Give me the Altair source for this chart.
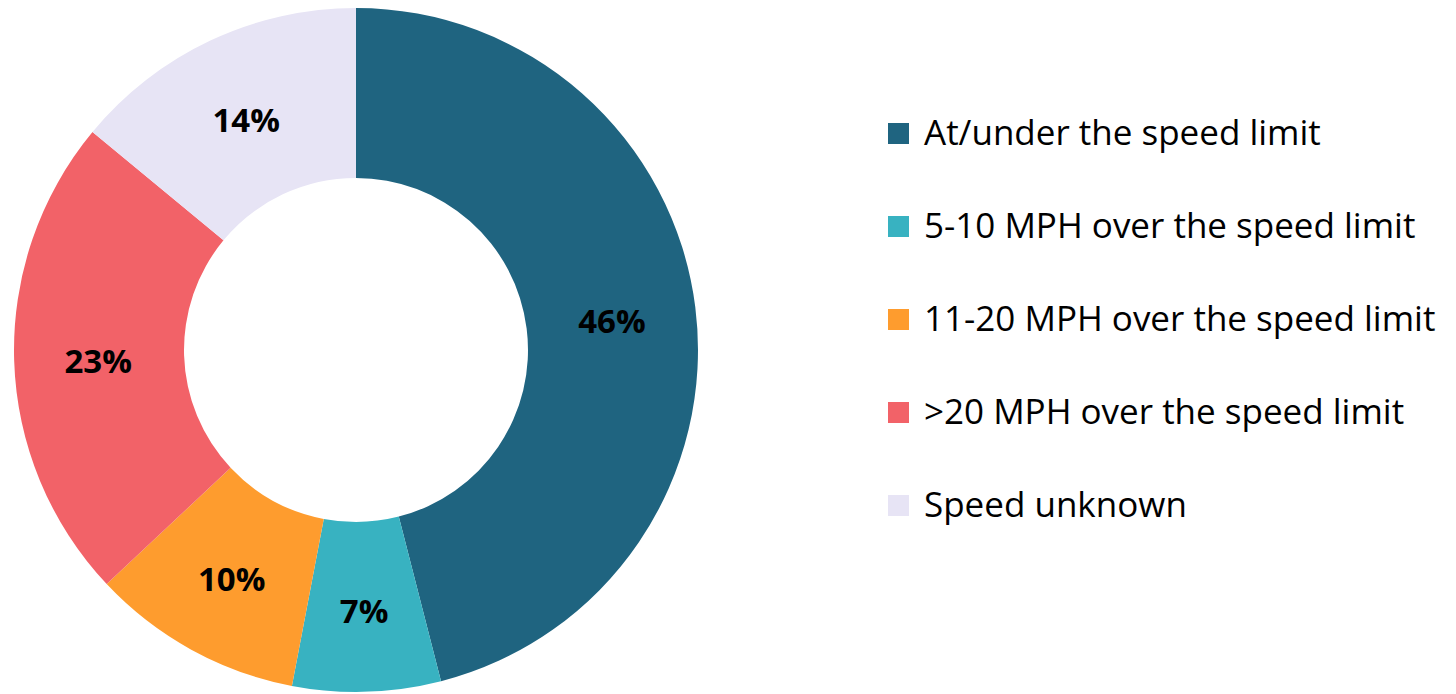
import altair as alt
import pandas as pd

categories = [
    "At/under the speed limit",
    "5-10 MPH over the speed limit",
    "11-20 MPH over the speed limit",
    ">20 MPH over the speed limit",
    "Speed unknown",
]
values = [46, 7, 10, 23, 14]
labels = ["46%", "7%", "10%", "23%", "14%"]
colors = ["#1F6480", "#38B2C1", "#FE9C2E", "#F26268", "#E7E4F5"]

df = pd.DataFrame({
    "category": categories,
    "value": values,
    "label": labels,
    "order": list(range(len(categories))),
})

CX, CY = 348, 342
FONT = "Open Sans"

base = alt.Chart(df).encode(
    theta=alt.Theta("value:Q", stack=True),
    order=alt.Order("order:Q"),
)

arcs = base.mark_arc(innerRadius=172, outerRadius=342, x=CX, y=CY).encode(
    color=alt.Color(
        "category:N",
        sort=categories,
        scale=alt.Scale(domain=categories, range=colors),
        legend=alt.Legend(
            title=None,
            orient="none",
            legendX=873,
            legendY=108,
            symbolType="square",
            symbolSize=441,
            symbolStrokeWidth=0,
            labelFontSize=35,
            labelFont=FONT,
            labelColor="#000000",
            labelLimit=600,
            rowPadding=57,
            labelOffset=8,
        ),
    )
)

texts = base.mark_text(
    radius=258, x=CX, y=CY, dy=5, font=FONT, fontSize=33, fontWeight="bold",
    color="#000000", align="center", baseline="middle",
).encode(text="label:N")

chart = (arcs + texts).properties(
    width=1440, height=686, padding=0, autosize=alt.AutoSizeParams(type="none")
).configure_view(stroke=None)

chart.save("out.html", embed_options={"renderer": "svg", "actions": False})
